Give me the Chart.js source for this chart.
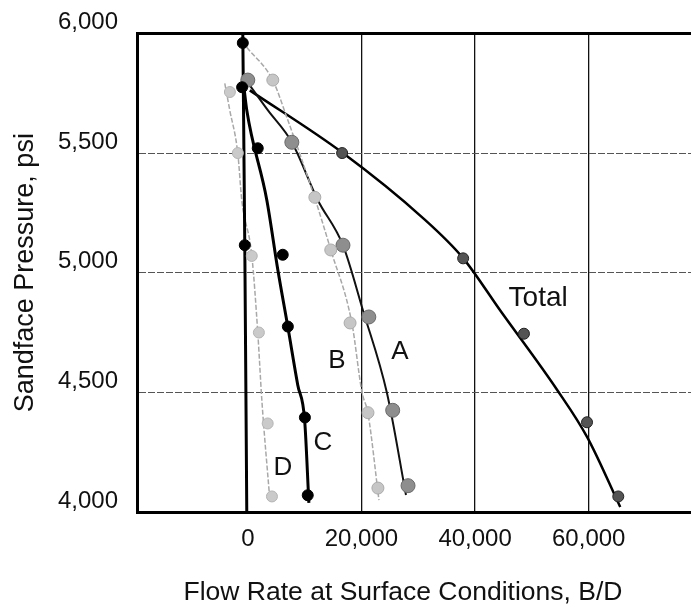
<!DOCTYPE html>
<html>
<head>
<meta charset="utf-8">
<title>Sandface pressure vs flow rate</title>
<script src="https://cdn.jsdelivr.net/npm/chart.js@4.4.0/dist/chart.umd.min.js"></script>
<style>
  html, body { margin: 0; padding: 0; background: #fff; }
  #wrap { width: 691px; height: 607px; }
</style>
</head>
<body>
<div id="wrap"><canvas id="ipr" width="691" height="607"></canvas></div>
<script>
// x = rate at surface conditions (B/D), y = sandface pressure (psi)
const xTicks = [0, 20000, 40000, 60000];
const yTicks = [4000, 4500, 5000, 5500, 6000];
const xTitle = 'Flow Rate at Surface Conditions, B/D';
const yTitle = 'Sandface Pressure, psi';

// test points for each layer and for the commingled total
const totalPoints  = [[16600, 5500], [37900, 5060], [48600, 4745], [59700, 4375], [65200, 4065]];
const layerAPoints = [[0, 5805], [7750, 5545], [16750, 5115], [21300, 4815], [25500, 4425], [28200, 4110]];
const layerBPoints = [[4400, 5805], [11800, 5315], [14600, 5095], [18000, 4790], [21150, 4415], [22900, 4100]];
const layerCPoints = [[-1000, 5775], [1750, 5520], [6150, 5075], [7050, 4775], [10050, 4395], [10550, 4070]];
const layerDPoints = [[-3150, 5755], [-1750, 5500], [700, 5070], [1950, 4750], [3500, 4370], [4250, 4065]];
const layerEPoints = [[-880, 5960], [-530, 5115]];

// hand-drawn curves through each set
const totalCurve  = [[350, 5762], [16560, 5503], [30840, 5228], [37880, 5061], [44400, 4843], [54450, 4510], [59730, 4313], [65550, 4021]];
const layerACurve = [[350, 5783], [3520, 5679], [7750, 5545], [12330, 5303], [16740, 5115], [20260, 4843], [24490, 4497], [27840, 4071]];
const layerBCurve = [[-180, 5942], [4400, 5804], [6870, 5649], [11800, 5311], [14620, 5094], [18320, 4789], [20090, 4501], [21140, 4413], [23080, 4050]];
const layerCCurve = [[-700, 5779], [-180, 5679], [3350, 5303], [5290, 5011], [7050, 4773], [8800, 4530], [10000, 4385], [10750, 4038]];
const layerDCurve = [[-4050, 5791], [-3170, 5679], [-1760, 5499], [-1060, 5303], [700, 5073], [1760, 4748], [2470, 4468], [3880, 4050]];
const layerECurve = [[-880, 6000], [-530, 5115], [-180, 4000]];

const curveLabels = ['Total', 'A', 'B', 'C', 'D'];
const curveLabelAt = [[51100, 4893], [26780, 4668], [15680, 4631], [13220, 4288], [6170, 4184]];
const curveLabelSize = [28, 26, 26, 26, 26];

const FONT = '"Liberation Sans", Arial, Helvetica, sans-serif';
Chart.defaults.font.family = FONT;
Chart.defaults.color = '#111';

const pts = arr => arr.map(([x, y]) => ({ x, y }));

function curve(data, color, width, dash) {
  return {
    data: pts(data),
    showLine: true,
    borderColor: color,
    borderWidth: width,
    borderDash: dash || [],
    pointRadius: 0,
    cubicInterpolationMode: 'monotone',
    fill: false,
    order: 2
  };
}

function markers(data, fill, edge, r) {
  return {
    data: pts(data),
    showLine: false,
    pointRadius: r,
    backgroundColor: fill,
    borderColor: edge,
    borderWidth: 1,
    order: 1
  };
}

// letters next to each curve, plus the rate title (centred on the full
// frame, which runs on past the right edge)
const curveLabelPlugin = {
  id: 'curveLabels',
  afterDraw(chart) {
    const { ctx, scales: { x, y } } = chart;
    ctx.save();
    ctx.fillStyle = '#111';
    ctx.textAlign = 'center';
    ctx.textBaseline = 'middle';
    curveLabels.forEach((t, i) => {
      ctx.font = curveLabelSize[i] + 'px ' + FONT;
      ctx.fillText(t, x.getPixelForValue(curveLabelAt[i][0]), y.getPixelForValue(curveLabelAt[i][1]));
    });
    ctx.font = '26.5px ' + FONT;
    ctx.fillText(xTitle, 403, 593);
    ctx.restore();
  }
};

const ctx = document.getElementById('ipr').getContext('2d');
new Chart(ctx, {
  type: 'scatter',
  data: {
    datasets: [
      curve(layerECurve, '#000', 3),
      curve(layerDCurve, '#a8a8a8', 1.5, [5, 2]),
      curve(layerCCurve, '#000', 3),
      curve(layerBCurve, '#a8a8a8', 1.5, [5, 2]),
      curve(layerACurve, '#111', 2),
      curve(totalCurve, '#000', 2.5),
      markers(layerEPoints, '#000', '#000', 5.5),
      markers(layerDPoints, '#cacaca', '#b4b4b4', 5.5),
      markers(layerCPoints, '#000', '#000', 5.5),
      markers(layerBPoints, '#c6c6c6', '#aaaaaa', 6),
      markers(layerAPoints, '#8e8e8e', '#6a6a6a', 7),
      markers(totalPoints, '#545454', '#222', 5.5)
    ]
  },
  options: {
    responsive: false,
    animation: false,
    events: [],
    layout: { autoPadding: false, padding: { top: 33, right: 0, left: 0, bottom: 0 } },
    plugins: {
      legend: { display: false },
      tooltip: { enabled: false }
    },
    scales: {
      x: {
        type: 'linear',
        min: -19500,
        max: 78000,
        afterBuildTicks: s => { s.ticks = xTicks.map(v => ({ value: v })); },
        afterFit: s => { s.height = 95; },
        ticks: {
          font: { size: 24 },
          color: '#111',
          padding: 13,
          maxRotation: 0,
          autoSkip: false,
          callback: v => v.toLocaleString('en-US')
        },
        grid: {
          color: '#111',
          lineWidth: c => (c.tick && c.tick.value === 0 ? 0 : 1.3),
          drawTicks: false
        },
        border: { color: '#000', width: 3 }
      },
      y: {
        type: 'linear',
        min: 4000,
        max: 6000,
        afterBuildTicks: s => { s.ticks = yTicks.map(v => ({ value: v })); },
        afterFit: s => { s.width = 137; },
        ticks: {
          font: { size: 24 },
          color: '#111',
          padding: 19,
          labelOffset: -11,
          callback: v => v.toLocaleString('en-US')
        },
        grid: {
          color: c => (c.tick && c.tick.value === 6000 ? '#000' : '#555'),
          lineWidth: c => {
            const v = c.tick ? c.tick.value : null;
            if (v === 6000) return 3;
            if (v === 4000) return 0;
            return 1;
          },
          drawTicks: false
        },
        border: {
          color: '#000',
          width: 3,
          dash: c => (c.tick && c.tick.value === 6000 ? [] : [7, 2])
        },
        title: {
          display: true,
          text: yTitle,
          font: { size: 27 },
          color: '#111',
          padding: { top: 9, bottom: 0 }
        }
      }
    }
  },
  plugins: [curveLabelPlugin]
});
</script>
</body>
</html>
